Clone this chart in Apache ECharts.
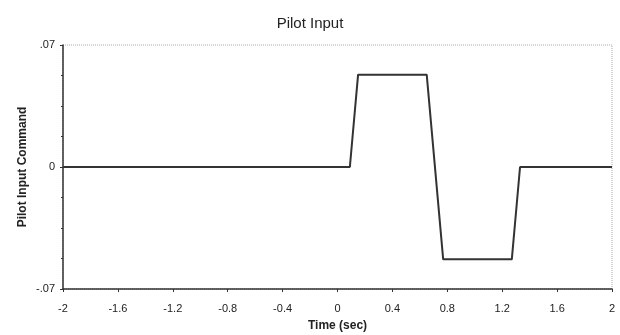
<!DOCTYPE html>
<html><head><meta charset="utf-8">
<script src="https://cdn.jsdelivr.net/npm/echarts@6/dist/echarts.min.js"></script>
<style>html,body{margin:0;padding:0;background:#fff}#c{width:620px;height:335px}</style>
</head><body><div id="c"></div>
<script>
var timeSec = [-2, 0.09, 0.15, 0.65, 0.77, 1.27, 1.33, 2];
var command = [0, 0, 0.053, 0.053, -0.053, -0.053, 0, 0];
var yTickLabels = {'0.07': '.07', '0': '0', '-0.07': '-.07'};

var data = timeSec.map(function (t, i) { return [t, command[i]]; });
var chart = echarts.init(document.getElementById('c'));
var font = 'Liberation Sans, Arial, sans-serif';
chart.setOption({
  animation: false,
  title: {text: 'Pilot Input', left: 'center', top: 11,
    textStyle: {fontFamily: font, fontSize: 15, fontWeight: 'normal', color: '#222'}},
  grid: {left: 63, right: 8, top: 45, bottom: 46, show: true, outerBoundsMode: 'none',
    borderColor: '#aaa', borderWidth: 1, borderType: 'dotted'},
  xAxis: {type: 'value', min: -2, max: 2, interval: 0.4,
    name: 'Time (sec)', nameLocation: 'middle', nameGap: 31, nameMoveOverlap: false,
    nameTextStyle: {fontFamily: font, fontSize: 12, fontWeight: 'bold', color: '#222'},
    axisLine: {onZero: false, lineStyle: {color: '#333', width: 1.5}},
    axisTick: {length: 3, lineStyle: {color: '#333'}},
    splitLine: {show: false},
    axisLabel: {fontFamily: font, fontSize: 11, color: '#222', margin: 14,
      formatter: function (v) { return String(Math.round(v * 10) / 10); }}},
  yAxis: {type: 'value', min: -0.07, max: 0.07, interval: 0.07,
    name: 'Pilot Input Command', nameLocation: 'middle', nameGap: 34, nameMoveOverlap: false,
    nameTextStyle: {fontFamily: font, fontSize: 12, fontWeight: 'bold', color: '#222'},
    axisLine: {show: true, onZero: false, lineStyle: {color: '#333', width: 1.5}},
    axisTick: {length: 3, lineStyle: {color: '#333'}},
    minorTick: {show: true, splitNumber: 4, length: 2, lineStyle: {color: '#333'}},
    splitLine: {show: false},
    axisLabel: {fontFamily: font, fontSize: 11, color: '#222', margin: 8,
      formatter: function (v) { var k = String(Math.round(v * 100) / 100); return yTickLabels[k] !== undefined ? yTickLabels[k] : k; }}},
  series: [{type: 'line', data: data, showSymbol: false, symbol: 'none',
    lineStyle: {color: '#333', width: 2}}]
});
</script></body></html>
